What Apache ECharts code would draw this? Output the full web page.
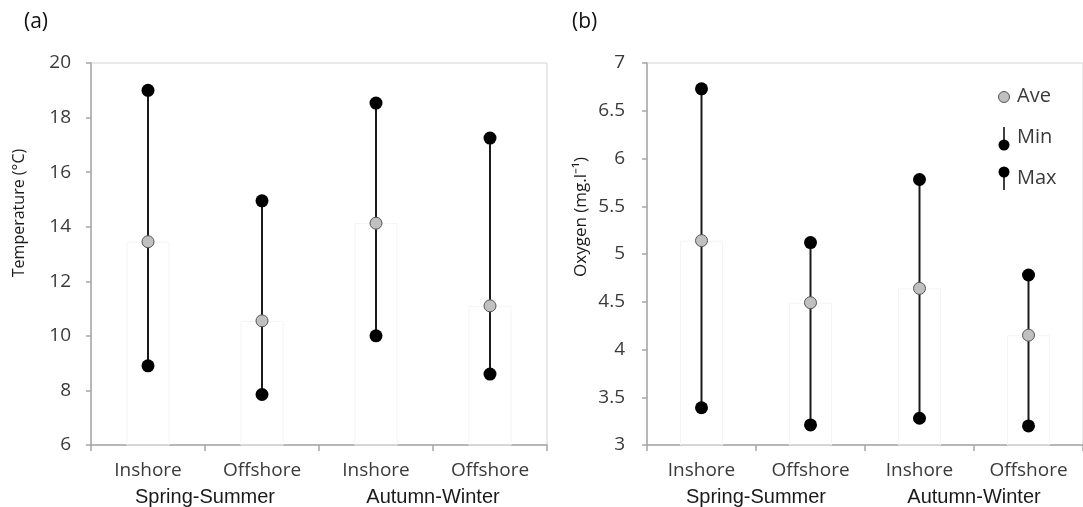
<!DOCTYPE html>
<html>
<head>
<meta charset="utf-8">
<title>Temperature and oxygen ranges</title>
<script src="https://cdn.jsdelivr.net/npm/echarts@6/dist/echarts.min.js"></script>
<style>
  html, body { margin: 0; padding: 0; background: #fff; }
  #chart { width: 1083px; height: 507px; }
</style>
</head>
<body>
<div id="chart"></div>
<script>
// Sampling sites and seasons
const categories = ['Inshore', 'Offshore', 'Inshore', 'Offshore'];
const seasons = ['Spring-Summer', 'Autumn-Winter'];

// (a) Temperature (°C)
const tempMax = [19.0, 14.95, 18.53, 17.25];
const tempAve = [13.45, 10.55, 14.13, 11.1];
const tempMin = [8.9, 7.85, 10.0, 8.6];
const tempTicks = { min: 6, max: 20, interval: 2 };

// (b) Oxygen (mg.l-1)
const oxyMax = [6.73, 5.12, 5.78, 4.78];
const oxyAve = [5.14, 4.49, 4.64, 4.15];
const oxyMin = [3.39, 3.21, 3.28, 3.2];
const oxyTicks = { min: 3, max: 7, interval: 0.5 };

const axisGrey = '#a6a6a6';
const labelGrey = '#3a3a3a';
const labelFont = 'Open Sans';
const groupFont = 'Liberation Sans';

const chart = echarts.init(document.getElementById('chart'), null, { renderer: 'canvas' });

// vertical line joining min and max of each category
function rangeItem(params, api) {
  const x = api.value(0);
  const lo = api.coord([x, api.value(1)]);
  const hi = api.coord([x, api.value(2)]);
  return {
    type: 'line',
    shape: { x1: lo[0], y1: lo[1], x2: hi[0], y2: hi[1] },
    style: { stroke: '#1a1a1a', lineWidth: 2 }
  };
}

function catAxis(gridIndex) {
  return {
    type: 'category',
    gridIndex: gridIndex,
    data: categories,
    boundaryGap: true,
    axisLine: { show: true, lineStyle: { color: axisGrey, width: 1.5 } },
    axisTick: { show: true, length: 6, lineStyle: { color: axisGrey, width: 1.5 } },
    axisLabel: { margin: 16, fontFamily: labelFont, fontSize: 19, color: labelGrey },
    splitLine: { show: false }
  };
}

function groupAxis(gridIndex) {
  return {
    type: 'category',
    gridIndex: gridIndex,
    position: 'bottom',
    data: seasons,
    axisLine: { show: false },
    axisTick: { show: false },
    axisLabel: { margin: 42, fontFamily: groupFont, fontSize: 20, color: '#1a1a1a' },
    splitLine: { show: false }
  };
}

function valAxis(gridIndex, ticks, margin) {
  return {
    type: 'value',
    gridIndex: gridIndex,
    min: ticks.min,
    max: ticks.max,
    interval: ticks.interval,
    axisLine: { show: true, lineStyle: { color: axisGrey, width: 1.5 } },
    axisTick: { show: true, length: 5, lineStyle: { color: axisGrey, width: 1.5 } },
    axisLabel: { margin: margin, fontFamily: labelFont, fontSize: 19, color: labelGrey },
    splitLine: { show: false }
  };
}

function panelSeries(xIdx, yIdx, mins, aves, maxs) {
  return [
    {
      type: 'bar',
      xAxisIndex: xIdx, yAxisIndex: yIdx,
      data: aves,
      barWidth: 43,
      silent: true,
      itemStyle: { color: 'rgba(255,255,255,0)', borderColor: '#f4f4f4', borderWidth: 1 },
      z: 1
    },
    {
      type: 'custom',
      xAxisIndex: xIdx, yAxisIndex: yIdx,
      renderItem: rangeItem,
      encode: { x: 0, y: [1, 2] },
      data: categories.map((c, i) => [i, mins[i], maxs[i]]),
      z: 2
    },
    {
      type: 'scatter',
      xAxisIndex: xIdx, yAxisIndex: yIdx,
      data: maxs,
      symbol: 'circle', symbolSize: 13,
      itemStyle: { color: '#000', opacity: 1 },
      z: 3
    },
    {
      type: 'scatter',
      xAxisIndex: xIdx, yAxisIndex: yIdx,
      data: mins,
      symbol: 'circle', symbolSize: 13,
      itemStyle: { color: '#000', opacity: 1 },
      z: 3
    },
    {
      type: 'scatter',
      xAxisIndex: xIdx, yAxisIndex: yIdx,
      data: aves,
      symbol: 'circle', symbolSize: 12,
      itemStyle: { color: '#c0c0c0', borderColor: '#555', borderWidth: 1, opacity: 1 },
      z: 4
    }
  ];
}

// legend for panel (b): grey average dot, min dot with stem above, max dot with stem below
const lx = 1004;
const legendText = (y, t) => ({
  type: 'text', x: 1017, y: y,
  style: { text: t, font: '20px "Open Sans"', fill: labelGrey, verticalAlign: 'middle' }
});
const legend = [
  { type: 'circle', shape: { cx: lx, cy: 97, r: 5.5 }, style: { fill: '#c0c0c0', stroke: '#555', lineWidth: 1 } },
  legendText(96, 'Ave'),
  { type: 'line', shape: { x1: lx, y1: 127, x2: lx, y2: 142 }, style: { stroke: '#000', lineWidth: 1.5 } },
  { type: 'circle', shape: { cx: lx, cy: 145, r: 5.5 }, style: { fill: '#000' } },
  legendText(137, 'Min'),
  { type: 'circle', shape: { cx: lx, cy: 172, r: 5.5 }, style: { fill: '#000' } },
  { type: 'line', shape: { x1: lx, y1: 175, x2: lx, y2: 190 }, style: { stroke: '#000', lineWidth: 1.5 } },
  legendText(178, 'Max')
];

const option = {
  animation: false,
  backgroundColor: '#fff',
  grid: [
    { left: 91, top: 63, width: 456, bottom: 62, show: true, borderColor: '#d4d4d4', borderWidth: 1 },
    { left: 647, top: 63, width: 446, bottom: 62, show: true, borderColor: '#d4d4d4', borderWidth: 1 }
  ],
  xAxis: [catAxis(0), groupAxis(0), catAxis(1), groupAxis(1)],
  yAxis: [valAxis(0, tempTicks, 20), valAxis(1, oxyTicks, 22)],
  series: [
    ...panelSeries(0, 0, tempMin, tempAve, tempMax),
    ...panelSeries(2, 1, oxyMin, oxyAve, oxyMax)
  ],
  graphic: [
    { type: 'text', x: 24, y: 22, style: { text: '(a)', font: '21px "Open Sans"', fill: '#111', verticalAlign: 'middle' } },
    { type: 'text', x: 572, y: 22, style: { text: '(b)', font: '21px "Open Sans"', fill: '#111', verticalAlign: 'middle' } },
    {
      type: 'text', x: 19, y: 213, rotation: Math.PI / 2,
      style: { text: 'Temperature (°C)', font: '16px "Open Sans"', fill: '#1a1a1a', align: 'center', verticalAlign: 'middle' }
    },
    {
      type: 'text', x: 581, y: 217, rotation: Math.PI / 2,
      style: { text: 'Oxygen (mg.l⁻¹)', font: '17px "Open Sans"', fill: '#1a1a1a', align: 'center', verticalAlign: 'middle' }
    },
    ...legend
  ]
};

chart.setOption(option);
</script>
</body>
</html>
